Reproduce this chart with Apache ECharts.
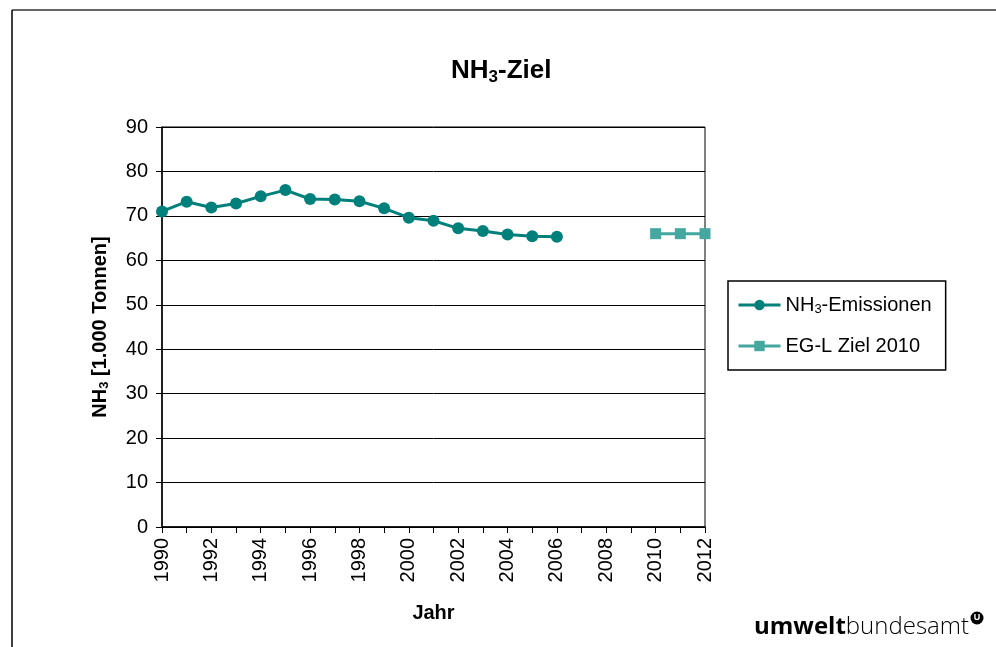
<!DOCTYPE html>
<html>
<head>
<meta charset="utf-8">
<script src="https://cdn.jsdelivr.net/npm/echarts@6/dist/echarts.min.js"></script>
<style>
  html, body { margin: 0; padding: 0; background: #fff; }
  #main { width: 996px; height: 647px; }
</style>
</head>
<body>
<div id="main"></div>
<script>
// Daten
var years = [1990, 1991, 1992, 1993, 1994, 1995, 1996, 1997, 1998, 1999, 2000, 2001, 2002, 2003, 2004, 2005, 2006];
var emissionen = [71.0, 73.2, 71.9, 72.8, 74.4, 75.8, 73.8, 73.7, 73.3, 71.7, 69.6, 68.9, 67.2, 66.6, 65.8, 65.4, 65.3];
var zielYears = [2010, 2011, 2012];
var zielWerte = [66.0, 66.0, 66.0];
var yTicks = [0, 10, 20, 30, 40, 50, 60, 70, 80, 90];

function pairs(xs, ys) {
    return xs.map(function (x, i) { return [x, ys[i]]; });
}

var myChart = echarts.init(document.getElementById('main'));
var font = '"Liberation Sans", Arial, sans-serif';

var option = {
    animation: false,
    textStyle: { fontFamily: font, color: '#000' },
    title: {
        text: '{b|NH}{s|3}{b|-Ziel}',
        left: 446,
        top: 50,
        textStyle: {
            rich: {
                b: { fontSize: 26, fontWeight: 'bold', fontFamily: font, color: '#000' },
                s: { fontSize: 17, fontWeight: 'bold', fontFamily: font, color: '#000', padding: [14, 0, 0, 0] }
            }
        }
    },
    grid: {
        left: 162,
        right: 291,
        top: 127,
        bottom: 120,
        show: true,
        borderColor: '#000',
        borderWidth: 1
    },
    legend: {
        orient: 'vertical',
        left: 728,
        top: 281,
        width: 219,
        height: 90,
        padding: [14, 14, 14, 9],
        itemGap: 20,
        itemWidth: 42,
        itemHeight: 13,
        borderColor: '#000',
        borderWidth: 1.5,
        lineStyle: { width: 3 },
        textStyle: {
            fontSize: 20,
            fontFamily: font,
            color: '#000',
            rich: {
                n: { fontSize: 20, fontFamily: font, color: '#000' },
                s: { fontSize: 13, fontFamily: font, color: '#000', padding: [9, 0, 0, 0] }
            }
        },
        formatter: function (name) {
            if (name === 'NH3-Emissionen') return '{n|NH}{s|3}{n|-Emissionen}';
            return '{n|' + name + '}';
        },
        data: ['NH3-Emissionen', 'EG-L Ziel 2010']
    },
    xAxis: {
        type: 'value',
        min: 1990,
        max: 2012,
        interval: 1,
        name: 'Jahr',
        nameLocation: 'middle',
        nameGap: 76,
        nameTextStyle: { fontSize: 20, fontWeight: 'bold', fontFamily: font, color: '#000' },
        axisLine: { show: true, lineStyle: { color: '#000', width: 1.5 } },
        axisTick: { show: true, length: 6, lineStyle: { color: '#000' } },
        splitLine: { show: false },
        axisLabel: {
            rotate: 90,
            fontSize: 20,
            color: '#000',
            margin: 11,
            formatter: function (v) { return v % 2 === 0 ? String(v) : ''; }
        }
    },
    yAxis: {
        type: 'value',
        min: yTicks[0],
        max: yTicks[yTicks.length - 1],
        interval: 10,
        name: '{b|NH}{s|3}{b| [1.000 Tonnen]}',
        nameLocation: 'middle',
        nameGap: 51,
        nameTextStyle: {
            rich: {
                b: { fontSize: 20, fontWeight: 'bold', fontFamily: font, color: '#000' },
                s: { fontSize: 13, fontWeight: 'bold', fontFamily: font, color: '#000', padding: [9, 0, 0, 0] }
            }
        },
        axisLine: { show: true, lineStyle: { color: '#000', width: 1.5 } },
        axisTick: { show: true, length: 6, lineStyle: { color: '#000' } },
        splitLine: { show: true, lineStyle: { color: '#000', width: 1 } },
        axisLabel: { fontSize: 20, color: '#000', margin: 14 }
    },
    series: [{
        name: 'NH3-Emissionen',
        type: 'line',
        data: pairs(years, emissionen),
        symbol: 'circle',
        symbolSize: 12,
        lineStyle: { color: '#00807a', width: 3 },
        itemStyle: { color: '#00807a' }
    }, {
        name: 'EG-L Ziel 2010',
        type: 'line',
        data: pairs(zielYears, zielWerte),
        symbol: 'rect',
        symbolSize: 11,
        lineStyle: { color: '#45a8a0', width: 3 },
        itemStyle: { color: '#45a8a0' }
    }],
    graphic: [
        { type: 'line', shape: { x1: 12, y1: 10, x2: 996, y2: 10 }, style: { stroke: '#333', lineWidth: 1.5 } },
        { type: 'line', shape: { x1: 12, y1: 10, x2: 12, y2: 647 }, style: { stroke: '#000', lineWidth: 1.5 } },
        {
            type: 'text',
            left: 754,
            top: 615,
            style: {
                text: '{b|umwelt}{l|bundesamt}',
                rich: {
                    b: { fontSize: 24, fontWeight: 'bold', fontFamily: '"Open Sans", sans-serif', fill: '#000' },
                    l: { fontSize: 24, fontWeight: 300, fontFamily: '"Open Sans", sans-serif', fill: '#000' }
                }
            }
        },
        { type: 'circle', shape: { cx: 977, cy: 618, r: 6.5 }, style: { fill: '#000' } },
        {
            type: 'text', x: 977, y: 618,
            style: { text: 'U', fontSize: 9, fontWeight: 'bold', fontFamily: font, fill: '#fff', align: 'center', verticalAlign: 'middle' }
        }
    ]
};

myChart.setOption(option);
</script>
</body>
</html>
